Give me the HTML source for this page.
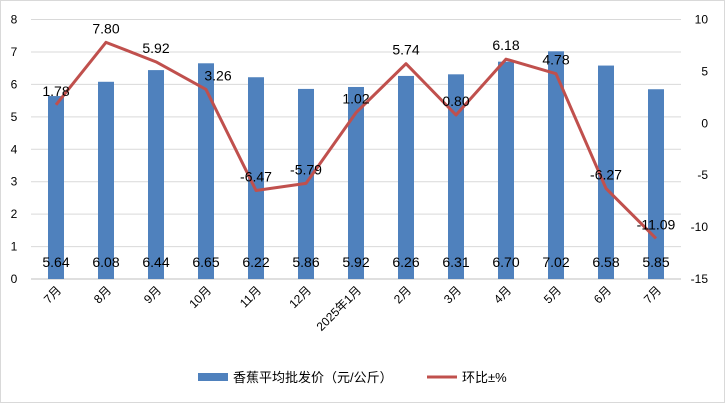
<!DOCTYPE html>
<html><head><meta charset="utf-8"><style>
body{margin:0;background:#fff}
svg{font-family:"Liberation Sans","Noto Sans CJK SC",sans-serif}
</style></head><body>
<svg id="c" width="725" height="403">
<rect x="0.5" y="0.5" width="724" height="402" fill="#fff" stroke="#d9d9d9"/>
<g id="grid"></g><g id="bars"></g><g id="line"></g><g id="labels"></g><g id="axes"></g>
<g>
<rect x="198" y="373" width="30" height="8" fill="#4f81bd"/>
<text x="233" y="382" font-size="13" fill="#000">香蕉平均批发价（元/公斤）</text>
<line x1="427" y1="377" x2="457" y2="377" stroke="#c0504d" stroke-width="3"/>
<text x="462" y="382" font-size="13" fill="#000">环比±%</text>
</g>
</svg>
<script>
const categories=["7月","8月","9月","10月","11月","12月","2025年1月","2月","3月","4月","5月","6月","7月"];
const prices=[5.64,6.08,6.44,6.65,6.22,5.86,5.92,6.26,6.31,6.70,7.02,6.58,5.85];
const changes=[1.78,7.80,5.92,3.26,-6.47,-5.79,1.02,5.74,0.80,6.18,4.78,-6.27,-11.09];
const leftTicks=[0,1,2,3,4,5,6,7,8];
const rightTicks=[10,5,0,-5,-10,-15];
const NS="http://www.w3.org/2000/svg";
const L=31,R=681,T=19.5,B=279;
const step=(R-L)/categories.length;
const xc=i=>L+step*(i+0.5);
const yl=v=>B-(v/8)*(B-T);
const yr=v=>T+(10-v)/25*(B-T);
function mk(tag,parent,attrs){const e=document.createElementNS(NS,tag);for(const k in attrs)e.setAttribute(k,attrs[k]);document.getElementById(parent).appendChild(e);return e;}
leftTicks.forEach(t=>{
 const g=mk('line','grid',{x1:L,x2:R,y1:yl(t),y2:yl(t),stroke:t===0?'#bfbfbf':'#d9d9d9'});
 
 
 const tx=mk('text','axes',{x:14,y:yl(t)+4,'font-size':12,'text-anchor':'middle'});tx.textContent=t;
 
 
});
rightTicks.forEach(t=>{
 const tx=mk('text','axes',{x:708,y:yr(t)+4,'font-size':12,'text-anchor':'end'});tx.textContent=t;
 
 
});
categories.forEach((c,i)=>{
 const tx=mk('text','axes',{'font-size':12,'text-anchor':'end',transform:`translate(${xc(i)+6},${291}) rotate(-45)`});tx.textContent=c;
 
 
});
prices.forEach((v,i)=>{
 const b=mk('rect','bars',{x:xc(i)-8,y:yl(v),width:16,height:B-yl(v),fill:'#4f81bd'});
 
 
 const tx=mk('text','labels',{x:xc(i),y:267,'font-size':14,'text-anchor':'middle'});tx.textContent=v.toFixed(2);
 
 
});
const pts=changes.map((v,i)=>xc(i)+','+yr(v)).join(' ');
const pl=mk('polyline','line',{points:pts,fill:'none',stroke:'#c0504d','stroke-width':3,'stroke-linejoin':'round'});


changes.forEach((v,i)=>{
 const tx=mk('text','labels',{x:xc(i)+(i===3?12:0),y:yr(v)-9,'font-size':14,'text-anchor':'middle'});tx.textContent=v.toFixed(2);
 
 
});
</script>
</body></html>
